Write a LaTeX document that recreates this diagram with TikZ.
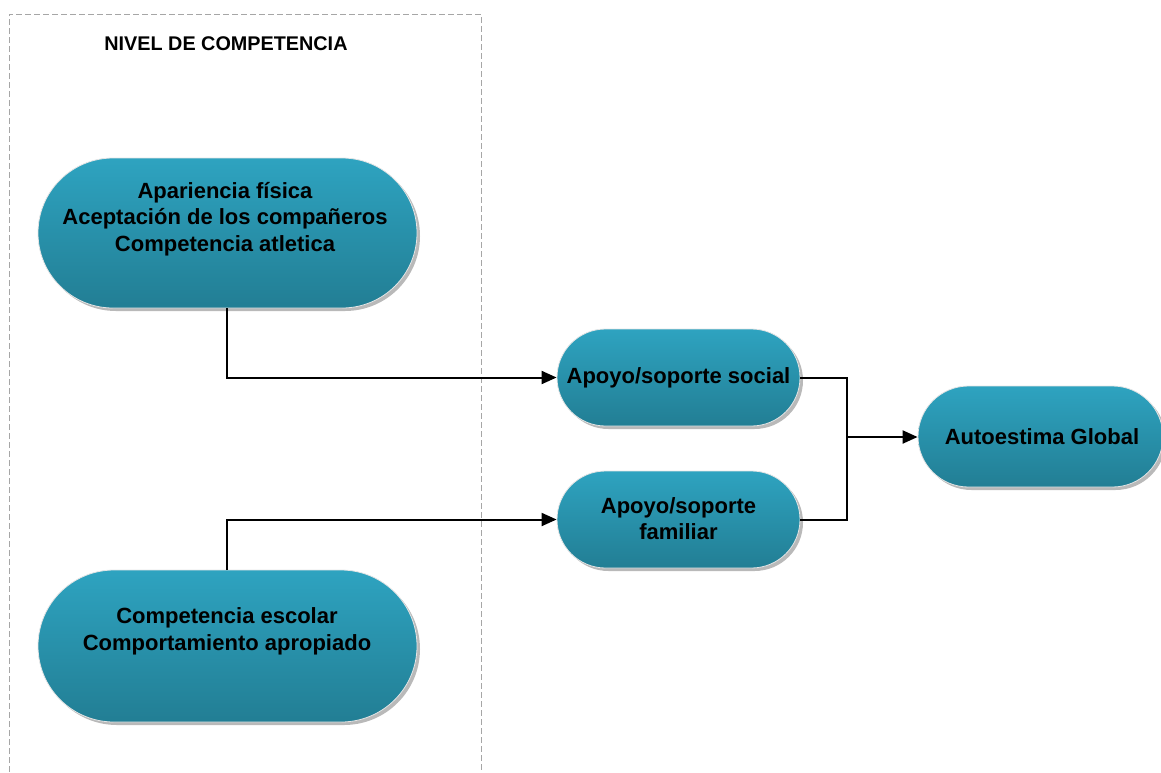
\documentclass[tikz,border=0pt]{standalone}
\usepackage{fontspec}
\setmainfont{Liberation Sans}
\usetikzlibrary{shapes.misc,shadows,arrows.meta}
\begin{document}
\begin{tikzpicture}[x=1pt,y=-1pt,
  blob/.style={rounded rectangle, draw=white!80!gray, line width=0.8pt,
    top color={rgb,255:red,46;green,163;blue,192}, bottom color={rgb,255:red,34;green,126;blue,148},
    drop shadow={opacity=0.55, shadow xshift=3pt, shadow yshift=-3pt, fill=gray},
    inner sep=0pt},
  txt/.style={font=\bfseries\fontsize{22}{26.5}\selectfont, align=center, text=black},
  conn/.style={line width=2pt, draw=black},
  arr/.style={conn, -{Triangle[length=15pt,width=13pt]}}]
\useasboundingbox (0,0) rectangle (1161,772);
\draw[gray!70, dashed, dash pattern=on 6pt off 3pt, line width=0.8pt] (9,790) -- (9,14) -- (481,14) -- (481,790);
\node[font=\bfseries\fontsize{19.8}{22}\selectfont] (title) at (226,44) {NIVEL DE COMPETENCIA};
\node[blob, minimum width=379pt, minimum height=150pt] (A) at (227.5,233) {};
\node[txt] (At) at (225,219) {Apariencia física\\Aceptación de los compañeros\\Competencia atletica};
\node[blob, minimum width=379pt, minimum height=152pt] (B) at (227.5,646) {};
\node[txt] (Bt) at (227,631.5) {Competencia escolar\\Comportamiento apropiado};
\node[blob, minimum width=243pt, minimum height=97pt] (S) at (678.5,377.5) {};
\node[txt] (St) at (678.5,377.5) {Apoyo/soporte social};
\node[blob, minimum width=243pt, minimum height=97pt] (F) at (678.5,519.5) {};
\node[txt] (Ft) at (678.5,518.5) {Apoyo/soporte\\familiar};
\node[blob, minimum width=245pt, minimum height=101pt] (G) at (1040.5,436.5) {};
\node[txt] (Gt) at (1042,437) {Autoestima Global};
\coordinate (J) at (847,437);
\draw[arr] (227,308) |- (S.west);
\draw[arr] (227,570) |- (F.west);
\draw[conn] (S.east) -| (J);
\draw[conn] (F.east) -| (J);
\draw[arr] (J) -- (G.west |- J);
\end{tikzpicture}
\end{document}
